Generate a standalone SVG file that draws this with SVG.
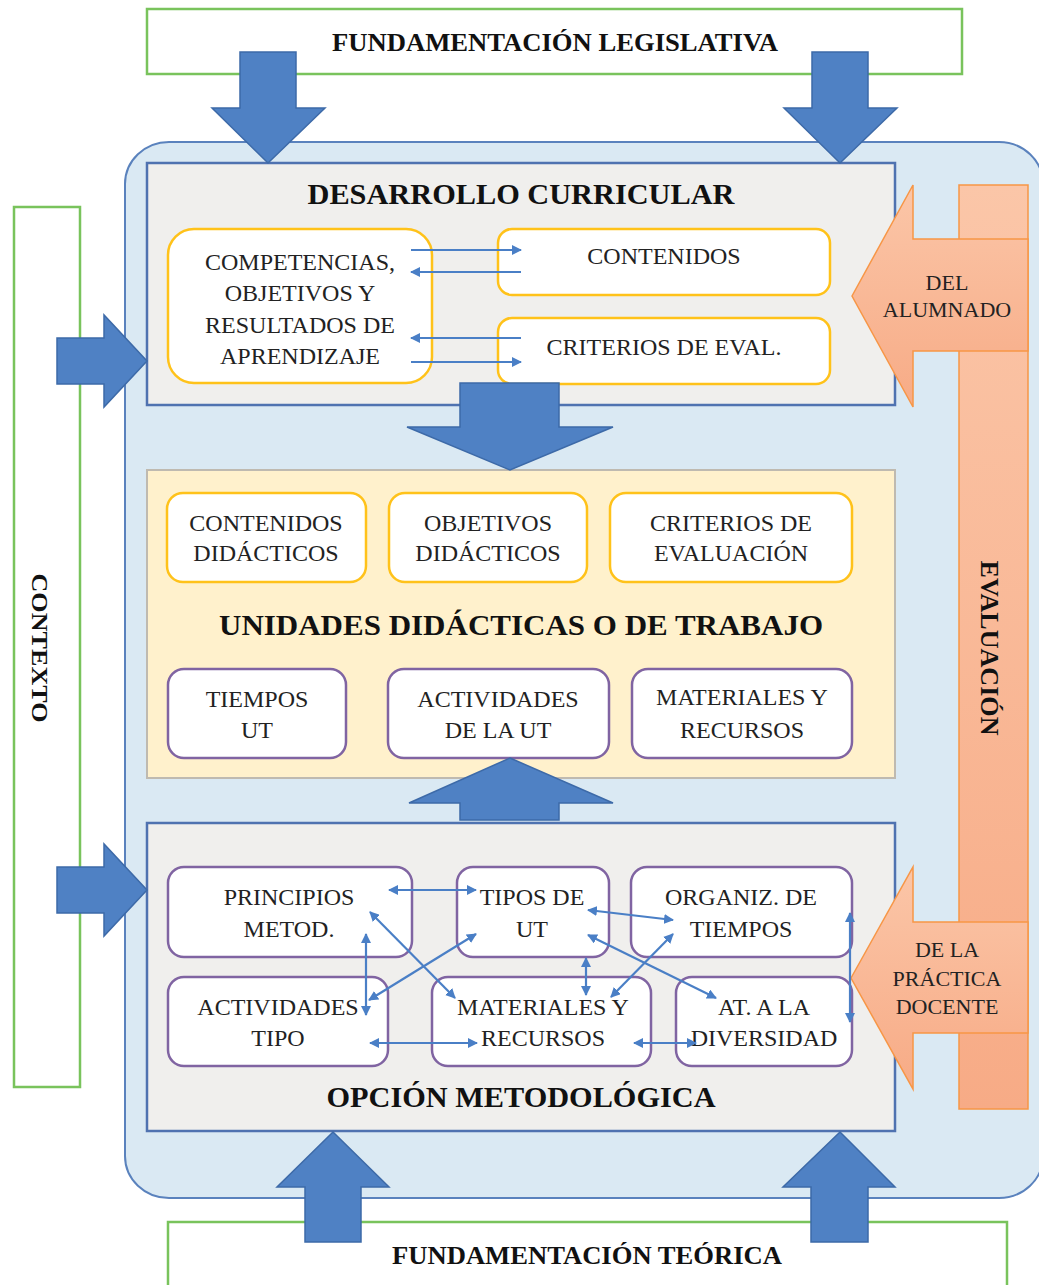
<svg xmlns="http://www.w3.org/2000/svg" width="1039" height="1285" viewBox="0 0 1039 1285">
<defs>
<marker id="ah" viewBox="0 0 10 10" refX="9" refY="5" markerWidth="10" markerHeight="10" markerUnits="userSpaceOnUse" orient="auto-start-reverse">
<path d="M0,0 L10,5 L0,10 Z" fill="#4a7fc6"/>
</marker>
<linearGradient id="og" x1="0" y1="0" x2="0" y2="1">
<stop offset="0" stop-color="#fbc6a8"/>
<stop offset="1" stop-color="#f7ab86"/>
</linearGradient>
<style>
.t{font-family:"Liberation Serif","DejaVu Serif",serif;fill:#222;text-anchor:middle}
.n{font-size:24px}
.b{font-weight:bold;fill:#111}
.green{fill:#fff;stroke:#79c35c;stroke-width:2.5}
.big{fill:#dae9f3;stroke:#5a82bd;stroke-width:2}
.gray{fill:#f0efed;stroke:#4f72b0;stroke-width:2.5}
.cream{fill:#fff1cc;stroke:#bfbab0;stroke-width:2}
.yel{fill:#fff;stroke:#ffc21a;stroke-width:2.5}
.pur{fill:#fff;stroke:#8064a2;stroke-width:2.5}
.ba{fill:#4f81c4;stroke:#3d6aa8;stroke-width:1.5}
.oa{fill:url(#og);stroke:#f79646;stroke-width:1.5}
.c{fill:none;stroke:#4a7fc6;stroke-width:2.2}
</style>
</defs>

<g id="fund-legislativa">
<rect class="green" x="147" y="9" width="815" height="65"/>
<text class="t b" x="555" y="51" font-size="26" textLength="446" lengthAdjust="spacingAndGlyphs">FUNDAMENTACIÓN LEGISLATIVA</text>
</g>

<g id="contexto">
<rect class="green" x="14" y="207" width="66" height="880"/>
<text class="t b" font-size="24" transform="translate(40,648) rotate(90)" y="8" textLength="149" lengthAdjust="spacingAndGlyphs">CONTEXTO</text>
</g>

<g id="fund-teorica">
<rect class="green" x="168" y="1222" width="839" height="80"/>
<text class="t b" x="587" y="1264" font-size="26" textLength="390" lengthAdjust="spacingAndGlyphs">FUNDAMENTACIÓN TEÓRICA</text>
</g>

<g id="marco">
<rect class="big" x="125" y="142" width="918" height="1056" rx="44" ry="42"/>
</g>

<g id="evaluacion">
<rect class="oa" x="959" y="185" width="69" height="924"/>
<text class="t b" font-size="26" transform="translate(990,648) rotate(90)" y="9" textLength="175" lengthAdjust="spacingAndGlyphs">EVALUACIÓN</text>
</g>

<g id="desarrollo-curricular">
<rect class="gray" x="147" y="163" width="748" height="242"/>
<text class="t b" x="521" y="204" font-size="30" textLength="427" lengthAdjust="spacingAndGlyphs">DESARROLLO CURRICULAR</text>
</g>
<g id="competencias">
<rect class="yel" x="168" y="229" width="264" height="154" rx="26"/>
<text class="t n" x="300" y="270">COMPETENCIAS,</text>
<text class="t n" x="300" y="301">OBJETIVOS Y</text>
<text class="t n" x="300" y="333">RESULTADOS DE</text>
<text class="t n" x="300" y="364">APRENDIZAJE</text>
</g>
<g id="contenidos">
<rect class="yel" x="498" y="229" width="332" height="66" rx="14"/>
<text class="t n" x="664" y="264">CONTENIDOS</text>
</g>
<g id="criterios-eval">
<rect class="yel" x="498" y="318" width="332" height="66" rx="14"/>
<text class="t n" x="664" y="355">CRITERIOS DE EVAL.</text>
</g>

<g id="unidades-didacticas">
<rect class="cream" x="147" y="470" width="748" height="308"/>
<text class="t b" x="521" y="635" font-size="30" textLength="604" lengthAdjust="spacingAndGlyphs">UNIDADES DIDÁCTICAS O DE TRABAJO</text>
</g>
<g id="contenidos-didacticos">
<rect class="yel" x="167" y="493" width="199" height="89" rx="16"/>
<text class="t n" x="266" y="531">CONTENIDOS</text>
<text class="t n" x="266" y="561">DIDÁCTICOS</text>
</g>
<g id="objetivos-didacticos">
<rect class="yel" x="389" y="493" width="198" height="89" rx="16"/>
<text class="t n" x="488" y="531">OBJETIVOS</text>
<text class="t n" x="488" y="561">DIDÁCTICOS</text>
</g>
<g id="criterios-evaluacion">
<rect class="yel" x="610" y="493" width="242" height="89" rx="16"/>
<text class="t n" x="731" y="531">CRITERIOS DE</text>
<text class="t n" x="731" y="561">EVALUACIÓN</text>
</g>
<g id="tiempos-ut">
<rect class="pur" x="168" y="669" width="178" height="89" rx="16"/>
<text class="t n" x="257" y="707">TIEMPOS</text>
<text class="t n" x="257" y="738">UT</text>
</g>
<g id="actividades-ut">
<rect class="pur" x="388" y="669" width="221" height="89" rx="16"/>
<text class="t n" x="498" y="707">ACTIVIDADES</text>
<text class="t n" x="498" y="738">DE LA UT</text>
</g>
<g id="materiales-ut">
<rect class="pur" x="632" y="669" width="220" height="89" rx="16"/>
<text class="t n" x="742" y="705">MATERIALES Y</text>
<text class="t n" x="742" y="738">RECURSOS</text>
</g>

<g id="opcion-metodologica">
<rect class="gray" x="147" y="823" width="748" height="308"/>
<text class="t b" x="521" y="1107" font-size="30" textLength="389" lengthAdjust="spacingAndGlyphs">OPCIÓN METODOLÓGICA</text>
</g>
<g id="principios">
<rect class="pur" x="168" y="867" width="244" height="90" rx="16"/>
<text class="t n" x="289" y="905">PRINCIPIOS</text>
<text class="t n" x="289" y="937">METOD.</text>
</g>
<g id="tipos-ut">
<rect class="pur" x="457" y="867" width="152" height="90" rx="16"/>
<text class="t n" x="532" y="905">TIPOS DE</text>
<text class="t n" x="532" y="937">UT</text>
</g>
<g id="organiz-tiempos">
<rect class="pur" x="631" y="867" width="221" height="90" rx="16"/>
<text class="t n" x="741" y="905">ORGANIZ. DE</text>
<text class="t n" x="741" y="937">TIEMPOS</text>
</g>
<g id="actividades-tipo">
<rect class="pur" x="168" y="977" width="220" height="89" rx="16"/>
<text class="t n" x="278" y="1015">ACTIVIDADES</text>
<text class="t n" x="278" y="1046">TIPO</text>
</g>
<g id="materiales-recursos">
<rect class="pur" x="432" y="977" width="219" height="89" rx="16"/>
<text class="t n" x="543" y="1015">MATERIALES Y</text>
<text class="t n" x="543" y="1046">RECURSOS</text>
</g>
<g id="diversidad">
<rect class="pur" x="676" y="977" width="176" height="89" rx="16"/>
<text class="t n" x="764" y="1015">AT. A LA</text>
<text class="t n" x="764" y="1046">DIVERSIDAD</text>
</g>

<g id="connectors">
<polygon class="ba" points="240,52 296,52 296,108 325,108 268,163 212,108 240,108"/>
<polygon class="ba" points="812,52 868,52 868,108 897,108 840,163 784,108 812,108"/>
<polygon class="ba" points="460,383 559,383 559,427 613,427 510,470 407,427 460,427"/>
<polygon class="ba" points="510,758 613,803 559,803 559,820 460,820 460,803 409,803"/>
<polygon class="ba" points="333,1132 389,1187 361,1187 361,1242 305,1242 305,1187 277,1187"/>
<polygon class="ba" points="840,1132 895,1187 868,1187 868,1242 811,1242 811,1187 783,1187"/>
<polygon class="ba" points="57,338 104,338 104,315 147,361 104,407 104,384 57,384"/>
<polygon class="ba" points="57,867 104,867 104,844 147,890 104,936 104,913 57,913"/>

<g id="del-alumnado">
<polygon class="oa" points="852,296 913,185 913,239 1028,239 1028,351 913,351 913,407"/>
<text class="t" x="947" y="290" font-size="22">DEL</text>
<text class="t" x="947" y="317" font-size="22">ALUMNADO</text>
</g>
<g id="practica-docente">
<polygon class="oa" points="851,978 913,867 913,922 1028,922 1028,1033 913,1033 913,1089"/>
<text class="t" x="947" y="957" font-size="22">DE LA</text>
<text class="t" x="947" y="986" font-size="22">PRÁCTICA</text>
<text class="t" x="947" y="1014" font-size="22">DOCENTE</text>
</g>

<line class="c" x1="411" y1="250" x2="521" y2="250" marker-end="url(#ah)"/>
<line class="c" x1="521" y1="272" x2="411" y2="272" marker-end="url(#ah)"/>
<line class="c" x1="521" y1="338" x2="411" y2="338" marker-end="url(#ah)"/>
<line class="c" x1="411" y1="362" x2="521" y2="362" marker-end="url(#ah)"/>

<line class="c" x1="389" y1="890" x2="476" y2="890" marker-start="url(#ah)" marker-end="url(#ah)"/>
<line class="c" x1="588" y1="910" x2="673" y2="920" marker-start="url(#ah)" marker-end="url(#ah)"/>
<line class="c" x1="370" y1="912" x2="455" y2="998" marker-start="url(#ah)" marker-end="url(#ah)"/>
<line class="c" x1="366" y1="934" x2="366" y2="1015" marker-start="url(#ah)" marker-end="url(#ah)"/>
<line class="c" x1="476" y1="934" x2="369" y2="1000" marker-start="url(#ah)" marker-end="url(#ah)"/>
<line class="c" x1="588" y1="935" x2="716" y2="998" marker-start="url(#ah)" marker-end="url(#ah)"/>
<line class="c" x1="586" y1="958" x2="586" y2="995" marker-start="url(#ah)" marker-end="url(#ah)"/>
<line class="c" x1="673" y1="934" x2="611" y2="997" marker-start="url(#ah)" marker-end="url(#ah)"/>
<line class="c" x1="370" y1="1043" x2="477" y2="1043" marker-start="url(#ah)" marker-end="url(#ah)"/>
<line class="c" x1="634" y1="1043" x2="696" y2="1043" marker-start="url(#ah)" marker-end="url(#ah)"/>
<line class="c" x1="850" y1="913" x2="850" y2="1022" marker-start="url(#ah)" marker-end="url(#ah)"/>
</g>
</svg>
